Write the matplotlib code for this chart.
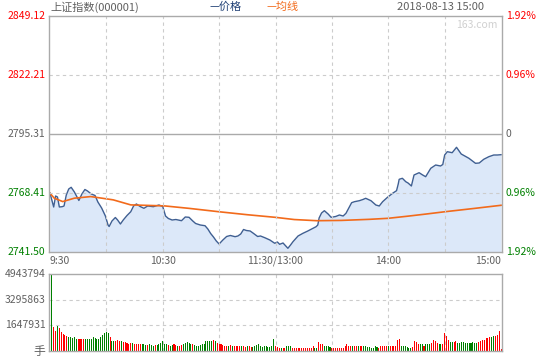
import numpy as np
import matplotlib
matplotlib.use('Agg')
import matplotlib.pyplot as plt

plt.rcParams['font.family'] = ['Noto Sans CJK SC', 'DejaVu Sans']

# Index 000001, 2018-08-13, intraday minute chart (241 minutes)
prev_close = 2795.31
price_max = 2849.12
price_min = 2741.50
vol_max = 4943794

# price line (minute index, value)
price_minute = [0, 1, 2, 3, 4, 5, 6.5, 7.5, 8.7, 10, 11.3, 13, 15.4, 17, 18.6, 20, 22, 24,
                25.5, 27.5, 29.5, 30.9, 31.5, 33, 34.8, 36, 37.5, 39, 41, 43, 44.5, 46, 48,
                50, 52, 55, 58, 60, 61.5, 63, 65, 67, 70, 72, 74, 76, 77.5, 80, 82.5, 84,
                85.5, 87, 88.5, 90, 92, 94, 96, 98.5, 100, 101.5, 103, 104.5, 106.5, 108,
                110.5, 112, 114.3, 117, 119.6, 121, 122.2, 124, 126.6, 128, 129.3, 132,
                134.6, 137.2, 140, 141.6, 142.5, 143.2, 144.5, 146, 148, 149.6, 152, 154,
                156, 157.5, 159, 160.5, 162, 164.6, 166.5, 168, 170.8, 173.4, 175.2, 177,
                179.6, 182.3, 184.4, 185.3, 185.8, 187.5, 189.3, 190.5, 192.3, 193.7,
                196.4, 198.3, 199.9, 202.6, 205.2, 207.8, 209, 210, 211.4, 214, 216.3,
                218.8, 222.9, 226.4, 228.4, 230.8, 233.5, 236.1, 238, 240]
price = [2768.40, 2765.21, 2762.02, 2767.04, 2766.58, 2762.02, 2762.16, 2762.48, 2767.49,
         2770.23, 2771.00, 2768.86, 2764.99, 2767.95, 2770.00, 2769.31, 2767.95, 2767.27,
         2764.30, 2761.56, 2757.92, 2753.81, 2753.13, 2755.63, 2757.23, 2756.09, 2754.27,
         2756.09, 2758.14, 2759.87, 2762.48, 2763.39, 2762.25, 2761.43, 2762.48, 2762.16,
         2762.93, 2762.25, 2757.92, 2756.78, 2756.09, 2756.32, 2755.77, 2757.46, 2757.32,
         2755.63, 2754.50, 2753.81, 2753.49, 2751.99, 2749.94, 2748.34, 2746.52, 2745.15,
         2746.97, 2748.57, 2749.03, 2748.48, 2748.80, 2749.71, 2751.76, 2751.31, 2751.08,
         2750.17, 2748.57, 2748.80, 2748.02, 2746.97, 2745.47, 2746.06, 2745.01, 2745.61,
         2743.19, 2744.69, 2746.20, 2748.80, 2750.03, 2751.08, 2752.31, 2753.04, 2753.81,
         2757.00, 2759.28, 2760.33, 2758.82, 2757.32, 2757.69, 2758.37, 2757.92, 2759.15,
         2761.56, 2763.98, 2764.44, 2764.89, 2765.44, 2765.99, 2764.89, 2762.93, 2762.48,
         2764.44, 2766.45, 2768.27, 2769.46, 2772.51, 2774.65, 2775.11, 2773.56, 2772.97,
         2771.60, 2776.61, 2777.66, 2776.61, 2775.84, 2779.67, 2781.17, 2780.72, 2781.40,
         2785.73, 2787.24, 2786.78, 2789.24, 2786.19, 2784.23, 2781.95, 2782.09, 2783.78,
         2784.96, 2785.73, 2785.73, 2785.87]

# average line (minute index, value)
avg_minute = [0, 2.3, 6.8, 13, 21.7, 28, 33.7, 43, 61, 74, 90, 105, 120, 130, 142, 155,
              170, 180, 190, 200, 210, 225, 240]
avg_price = [2768.30, 2766.04, 2764.49, 2766.04, 2766.77, 2766.00, 2765.27, 2762.98,
             2762.52, 2761.40, 2759.85, 2758.50, 2757.30, 2756.30, 2755.77, 2755.90,
             2756.40, 2756.87, 2757.80, 2758.80, 2759.85, 2761.30, 2762.80]

# volume per minute, in 10k lots
volume = [130, 494, 154, 130, 160, 145, 124, 108, 102, 95,
          91, 87, 82, 87, 78, 76, 76, 76, 78, 76,
          76, 76, 78, 87, 82, 76, 80, 87, 104, 113,
          124, 113, 91, 65, 61, 65, 69, 65, 61, 59,
          59, 54, 48, 54, 52, 48, 43, 43, 48, 46,
          43, 39, 39, 43, 37, 35, 39, 37, 48, 54,
          65, 48, 43, 39, 35, 39, 43, 39, 33, 35,
          39, 43, 54, 59, 54, 48, 43, 39, 35, 33,
          39, 43, 48, 65, 61, 61, 65, 69, 61, 54,
          48, 43, 39, 33, 33, 35, 39, 33, 30, 33,
          35, 33, 35, 30, 26, 30, 35, 26, 28, 30,
          39, 43, 30, 28, 30, 33, 28, 26, 30, 76,
          30, 26, 22, 17, 17, 22, 35, 30, 30, 22,
          22, 22, 22, 22, 22, 22, 17, 22, 22, 22,
          30, 22, 17, 56, 43, 43, 30, 30, 30, 26,
          19, 19, 22, 22, 22, 22, 22, 35, 43, 35,
          35, 30, 35, 30, 30, 30, 30, 30, 30, 26,
          26, 22, 22, 30, 26, 22, 30, 30, 30, 35,
          35, 30, 35, 35, 35, 69, 74, 35, 35, 35,
          26, 17, 17, 26, 65, 56, 43, 43, 43, 35,
          43, 43, 43, 52, 69, 61, 52, 43, 43, 48,
          117, 95, 69, 56, 56, 56, 61, 52, 52, 56,
          56, 52, 52, 52, 52, 56, 52, 52, 56, 61,
          69, 69, 82, 82, 87, 91, 95, 95, 104, 128, 13]
vol_dir = ('ggrrgrrrrr' 'gggggrrrrg' 'gggggggggg' 'ggrggrrrgr' 'rrrrgrrrrg'
           'ggrgggrggg' 'gggrggrrgr' 'rgggggrggg' 'gggggggrgr' 'rrrrrgrgrr'
           'rrgrrgrrgg' 'gggggggggg' 'rrrgrrgggr' 'rrrrrrrrrr' 'rggrrrgggg'
           'rrrrrrrrrr' 'rgrrgrrggg' 'gggggrrrrr' 'grrrrrrggg' 'gggrrrrggr'
           'gggrrrrggr' 'rrrggrrggg' 'ggggggggrr' 'rrrrrggrrrr')

time_ticks = [0, 60, 120, 180, 240]
time_labels = ['9:30', '10:30', '11:30/13:00', '14:00', '15:00']
left_ticks = [2849.12, 2822.21, 2795.31, 2768.41, 2741.50]
right_labels = ['1.92%', '0.96%', '0', '0.96%', '1.92%']
vol_ticks = [4943794, 3295863, 1647931]

RED = '#ff0000'
GREEN = '#008000'
GRAY = '#606060'
BORDER = '#aaaaaa'
GRID = '#cccccc'
FS = 7.5

fig = plt.figure(figsize=(5.4, 3.6), dpi=100)
ax = fig.add_axes([49 / 540, 1 - 252 / 360, 453 / 540, 236 / 360])
axv = fig.add_axes([49 / 540, 1 - 351 / 360, 453 / 540, 77 / 360])

x0, x1 = -0.5, 240.5

# price panel
ax.fill_between(price_minute, price, price_min, color='#dce8f9', lw=0)
ax.plot(price_minute, price, color='#3f5f92', lw=1.0)
ax.plot(avg_minute, avg_price, color='#f26a1b', lw=1.2)
ax.set_xlim(x0, x1)
ax.set_ylim(price_min, price_max)
for t in [30, 60, 90, 120, 150, 180, 210]:
    ax.axvline(t, color=GRID, lw=0.8, ls=(0, (3, 3)))
for v in [left_ticks[1], left_ticks[3]]:
    ax.axhline(v, color=GRID, lw=0.8, ls=(0, (3, 3)))
ax.axhline(prev_close, color=BORDER, lw=1.0)
ax.set_xticks([])
ax.set_yticks([])
for s in ax.spines.values():
    s.set_color(BORDER)
    s.set_linewidth(1.0)

colors = [RED, RED, GRAY, GREEN, GREEN]
for v, lab, c in zip(left_ticks, left_ticks, colors):
    ax.text(-0.008, v, '%.2f' % lab, transform=ax.get_yaxis_transform(),
            ha='right', va='center', fontsize=FS, color=c)
for v, lab, c in zip(left_ticks, right_labels, colors):
    ax.text(1.008, v, lab, transform=ax.get_yaxis_transform(),
            ha='left', va='center', fontsize=FS, color=c)

# time labels
for t, lab in zip(time_ticks, time_labels):
    ha = 'center'
    if t == 0:
        ha = 'left'
    elif t == 240:
        ha = 'right'
    ax.text(t, -0.016, lab, transform=ax.get_xaxis_transform(),
            ha=ha, va='top', fontsize=FS, color=GRAY)

# header
fig.text(50 / 540, 1 - 7 / 360, '上证指数(000001)', ha='left', va='center', fontsize=8, color=GRAY)
fig.text(209 / 540, 1 - 7 / 360, '—价格', ha='left', va='center', fontsize=8, color='#1f3f74')
fig.text(266 / 540, 1 - 7 / 360, '—均线', ha='left', va='center', fontsize=8, color='#f26a1b')
fig.text(484 / 540, 1 - 7 / 360, '2018-08-13 15:00', ha='right', va='center', fontsize=8, color=GRAY)
ax.text(0.99, 0.96, '163.com', transform=ax.transAxes, ha='right', va='center',
        fontsize=FS, color='#d0d0d0')

# volume panel
vol = np.array(volume) * 10000
bar_colors = [RED if d == 'r' else GREEN for d in vol_dir]
axv.bar(np.arange(len(vol)), vol, width=0.55, color=bar_colors, lw=0)
axv.set_xlim(x0, x1)
axv.set_ylim(0, vol_max)
for t in [30, 60, 90, 120, 150, 180, 210]:
    axv.axvline(t, color=GRID, lw=0.8, ls=(0, (3, 3)), zorder=0)
for v in vol_ticks[1:]:
    axv.axhline(v, color=GRID, lw=0.8, ls=(0, (3, 3)), zorder=0)
axv.set_xticks([])
axv.set_yticks([])
for s in axv.spines.values():
    s.set_color(BORDER)
    s.set_linewidth(1.0)
for v in vol_ticks:
    axv.text(-0.008, v, str(v), transform=axv.get_yaxis_transform(),
             ha='right', va='center', fontsize=FS, color=GRAY)
axv.text(-0.008, 0, '手', transform=axv.get_yaxis_transform(),
         ha='right', va='center', fontsize=8.5, color=GRAY)

fig.savefig('out.png', dpi=100)
